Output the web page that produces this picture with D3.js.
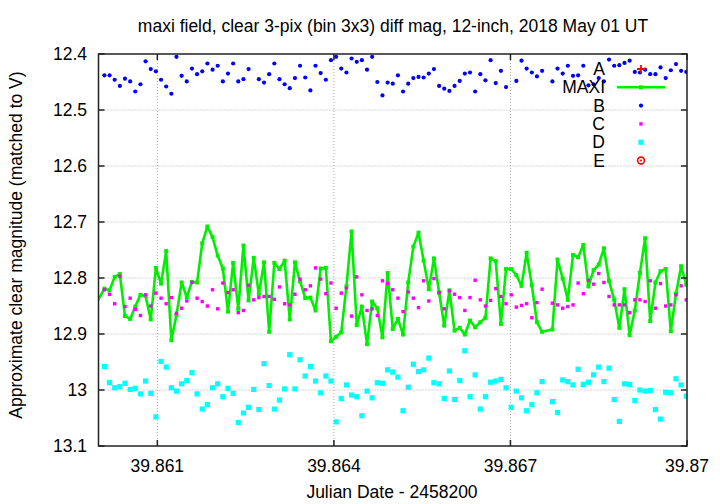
<!DOCTYPE html>
<html><head><meta charset="utf-8">
<script src="https://cdn.jsdelivr.net/npm/d3@7/dist/d3.min.js"></script>
<style>
body{margin:0;background:#fff}
text{font-family:"Liberation Sans",Arial,Helvetica,sans-serif;font-size:17.5px;fill:#000}
</style>
</head><body>
<svg id="chart" width="720" height="504"></svg>
<script>
const titleText = "maxi field, clear 3-pix (bin 3x3) diff mag, 12-inch, 2018 May 01 UT";
const xLabel = "Julian Date - 2458200";
const yLabel = "Approximate clear magnitude (matched to V)";
const xTicks = [39.861, 39.864, 39.867, 39.870];
const xTickLabels = ["39.861", "39.864", "39.867", "39.87"];
const yTicks = [12.4, 12.5, 12.6, 12.7, 12.8, 12.9, 13.0, 13.1];
const yTickLabels = ["12.4", "12.5", "12.6", "12.7", "12.8", "12.9", "13", "13.1"];
const legendNames = ["A", "MAXI", "B", "C", "D", "E"];

const jd = [39.85996,
39.860100,39.860188,39.860275,39.860363,39.860450,39.860538,39.860625,39.860713,39.860800,39.860888,
39.860975,39.861063,39.861150,39.861238,39.861325,39.861413,39.861500,39.861588,39.861675,39.861763,
39.861850,39.861938,39.862025,39.862113,39.862200,39.862288,39.862375,39.862463,39.862550,39.862638,
39.862725,39.862813,39.862900,39.862988,39.863075,39.863163,39.863250,39.863338,39.863425,39.863513,
39.863600,39.863688,39.863775,39.863863,39.863950,39.864038,39.864125,39.864213,39.864300,39.864388,
39.864475,39.864563,39.864650,39.864738,39.864825,39.864913,39.865000,39.865088,39.865175,39.865263,
39.865350,39.865438,39.865525,39.865613,39.865700,39.865788,39.865875,39.865963,39.866050,39.866138,
39.866225,39.866313,39.866400,39.866488,39.866575,39.866663,39.866750,39.866838,39.866925,39.867013,
39.867100,39.867188,39.867275,39.867363,39.867450,39.867538,
39.867713,39.867800,39.867888,39.867975,39.868063,39.868150,39.868238,39.868325,39.868413,39.868500,
39.868588,39.868675,39.868763,39.868850,39.868938,39.869025,39.869113,39.869200,39.869288,39.869375,
39.869463,39.869550,39.869638,39.869725,39.869813,39.869900,39.869988];

const magA = [];
const magE = [];

const magMAXI = [12.846,
12.819,12.822,12.798,12.793,12.868,12.873,12.851,12.830,12.832,12.874,
12.782,12.810,12.752,12.911,12.866,12.808,12.834,12.807,12.808,12.738,
12.708,12.727,12.760,12.783,12.860,12.773,12.855,12.742,12.840,12.764,
12.829,12.772,12.896,12.773,12.784,12.769,12.874,12.772,12.806,12.836,
12.835,12.858,12.783,12.782,12.913,12.905,12.897,12.815,12.717,12.884,
12.851,12.918,12.842,12.854,12.906,12.791,12.891,12.873,12.901,12.808,
12.744,12.719,12.769,12.820,12.765,12.826,12.885,12.822,12.894,12.889,
12.901,12.876,12.888,12.879,12.871,12.765,12.770,12.882,12.784,12.784,
12.795,12.814,12.755,12.813,12.879,12.896,
12.892,12.767,12.801,12.839,12.759,12.763,12.741,12.815,12.786,12.776,
12.747,12.805,12.839,12.889,12.820,12.902,12.858,12.791,12.729,12.877,
12.808,12.788,12.784,12.895,12.828,12.779,12.812];

const magB = [null,
12.438,12.438,12.446,12.457,12.444,12.449,12.467,12.454,12.413,12.427,
12.431,12.446,12.458,12.471,12.405,12.439,12.449,12.426,12.436,12.431,
12.417,12.428,12.421,12.449,12.435,12.417,12.449,12.445,12.427,null,
12.445,12.451,12.436,12.417,12.445,12.454,12.461,12.443,12.421,12.442,
12.465,12.421,12.434,12.446,12.411,12.405,12.426,12.433,12.408,12.414,
12.411,12.428,12.405,12.450,12.474,12.451,12.453,12.438,12.467,12.453,
12.443,12.441,12.442,12.435,12.427,12.457,12.462,12.466,12.457,12.448,
12.435,12.433,12.467,12.436,12.447,12.411,12.452,12.430,12.459,null,
12.448,12.412,12.426,12.433,12.440,12.430,
12.449,12.426,12.435,12.421,12.439,12.438,12.421,12.456,12.454,12.443,
12.449,12.410,12.421,12.420,12.416,12.412,12.432,12.433,12.428,12.436,
12.436,12.424,12.443,12.429,12.418,12.430,12.432];

const magC = [null,
12.821,12.829,12.846,12.797,12.851,12.836,12.856,12.867,12.830,12.850,
12.827,12.836,12.846,12.835,12.863,12.854,12.841,12.808,12.836,12.842,
12.850,12.821,12.855,12.809,12.826,12.821,12.862,12.858,12.813,12.839,
12.835,12.833,12.833,12.838,12.816,12.846,12.848,12.829,12.802,12.821,
12.814,12.782,12.802,12.828,12.809,12.854,12.827,12.818,12.868,12.798,
12.830,12.858,12.855,12.867,12.805,12.810,12.821,12.836,12.860,12.825,
12.836,12.853,12.805,12.841,12.801,12.826,12.855,12.823,12.829,12.835,
12.858,12.835,12.804,12.839,12.850,12.840,12.819,12.833,12.846,12.830,
12.852,12.849,12.846,12.871,12.844,12.820,
12.845,12.848,12.854,12.851,12.848,12.809,12.828,12.804,12.811,12.792,
12.808,12.833,12.848,12.848,12.848,12.862,12.839,12.839,12.842,12.805,
12.854,12.810,12.850,12.848,12.830,12.814,12.839];

const magD = [null,
12.958,12.987,12.996,12.994,12.988,12.999,12.997,13.007,12.984,13.006,
13.048,12.949,12.959,12.996,13.002,12.989,12.983,12.969,13.007,13.034,
13.026,12.996,12.989,13.012,12.997,13.006,13.058,13.041,13.031,12.999,
13.035,12.953,12.992,13.034,13.018,12.998,12.937,12.998,12.946,12.975,
12.958,12.984,13.005,12.975,12.984,13.057,13.015,12.991,13.009,13.012,
13.046,13.002,13.014,12.987,12.988,12.964,12.968,12.977,13.037,12.995,
12.954,12.967,12.964,12.943,12.987,12.989,13.015,12.966,13.017,12.983,
12.930,13.012,12.973,13.034,13.012,12.986,12.984,12.981,12.996,13.031,
13.002,13.014,13.037,13.026,13.005,12.985,
13.021,13.040,12.982,12.985,12.991,12.963,12.990,12.986,12.973,12.959,
12.985,12.961,13.017,13.056,12.989,12.990,13.019,13.000,13.002,13.001,
13.035,13.052,13.004,13.005,12.980,12.991,13.011];

const W = 720, H = 504;
const L = 98.5, R = 687, T = 54, B = 446;
const svg = d3.select("#chart");
const x = d3.scaleLinear().domain([39.860, 39.870]).range([L, R]);
const y = d3.scaleLinear().domain([12.4, 13.1]).range([T, B]);

svg.append("rect").attr("width", W).attr("height", H).attr("fill", "#fff");

// grid
const grid = svg.append("g").attr("stroke", "#aaaaaa").attr("stroke-width", 1).attr("stroke-dasharray", "1,2");
grid.selectAll("line.gy").data(yTicks.slice(1, -1)).join("line")
  .attr("x1", L).attr("x2", R).attr("y1", d => y(d)).attr("y2", d => y(d));
grid.selectAll("line.gx").data(xTicks.filter(d => x(d) < R - 2)).join("line")
  .attr("y1", T).attr("y2", B).attr("x1", d => x(d)).attr("x2", d => x(d));

// clip
svg.append("clipPath").attr("id", "clip").append("rect")
  .attr("x", L).attr("y", T).attr("width", R - L).attr("height", B - T);
const plot = svg.append("g").attr("clip-path", "url(#clip)");

const pts = arr => jd.map((t, i) => ({t, v: arr[i]})).filter(d => d.v != null);

// MAXI line
const green = "#00ee00";
plot.append("path").datum(pts(magMAXI))
  .attr("fill", "none").attr("stroke", green).attr("stroke-width", 2.6).attr("stroke-linejoin", "round")
  .attr("d", d3.line().x(d => x(d.t)).y(d => y(d.v)));
plot.selectAll("rect.mx").data(pts(magMAXI)).join("rect")
  .attr("x", d => x(d.t) - 2).attr("y", d => y(d.v) - 2).attr("width", 4).attr("height", 4).attr("fill", green);

// B
plot.selectAll("circle.b").data(pts(magB)).join("circle")
  .attr("cx", d => x(d.t)).attr("cy", d => y(d.v)).attr("r", 2.1).attr("fill", "#0000ff");
// C
plot.selectAll("rect.c").data(pts(magC)).join("rect")
  .attr("x", d => x(d.t) - 1.7).attr("y", d => y(d.v) - 1.7).attr("width", 3.4).attr("height", 3.4).attr("fill", "#ff00ff");
// D
plot.selectAll("rect.d").data(pts(magD)).join("rect")
  .attr("x", d => x(d.t) - 2.6).attr("y", d => y(d.v) - 2.6).attr("width", 5.2).attr("height", 5.2).attr("fill", "#00ffff");

// border & ticks
const ax = svg.append("g").attr("stroke", "#222").attr("stroke-width", 1.5);
ax.append("rect").attr("x", L).attr("y", T).attr("width", R - L).attr("height", B - T).attr("fill", "none");
const tl = 6;
yTicks.forEach(v => {
  ax.append("line").attr("x1", L).attr("x2", L + tl).attr("y1", y(v)).attr("y2", y(v));
  ax.append("line").attr("x1", R).attr("x2", R - tl).attr("y1", y(v)).attr("y2", y(v));
});
xTicks.forEach(v => {
  ax.append("line").attr("x1", x(v)).attr("x2", x(v)).attr("y1", B).attr("y2", B - tl);
  ax.append("line").attr("x1", x(v)).attr("x2", x(v)).attr("y1", T).attr("y2", T + tl);
});

// tick labels
svg.selectAll("text.yt").data(yTicks).join("text")
  .attr("x", 87).attr("y", d => y(d)).attr("dy", "0.35em").attr("text-anchor", "end")
  .text((d, i) => yTickLabels[i]);
svg.selectAll("text.xt").data(xTicks).join("text")
  .attr("x", d => x(d)).attr("y", 472).attr("text-anchor", "middle")
  .text((d, i) => xTickLabels[i]);

// titles
svg.append("text").attr("x", 393).attr("y", 32).attr("text-anchor", "middle").text(titleText);
svg.append("text").attr("x", 392).attr("y", 498).attr("text-anchor", "middle").text(xLabel);
svg.append("text").attr("transform", "translate(22,245) rotate(-90)").attr("text-anchor", "middle").text(yLabel);

// legend
const ly0 = 69, lstep = 18.3, ltx = 605, lsx = 641;
const lg = svg.append("g");
legendNames.forEach((n, i) => {
  lg.append("text").attr("x", ltx).attr("y", ly0 + i * lstep).attr("dy", "0.35em").attr("text-anchor", "end").text(n);
});
// A sample: red plus
let yy = ly0;
lg.append("path").attr("d", `M${lsx-4},${yy}H${lsx+4}M${lsx},${yy-4}V${yy+4}`).attr("stroke", "#ff0000").attr("stroke-width", 1.8);
// MAXI sample
yy = ly0 + lstep;
lg.append("line").attr("x1", 617).attr("x2", 665).attr("y1", yy).attr("y2", yy).attr("stroke", green).attr("stroke-width", 2.6);
lg.append("rect").attr("x", lsx - 2).attr("y", yy - 2).attr("width", 4).attr("height", 4).attr("fill", green);
// B sample
yy = ly0 + 2 * lstep;
lg.append("circle").attr("cx", lsx).attr("cy", yy).attr("r", 2.1).attr("fill", "#0000ff");
// C sample
yy = ly0 + 3 * lstep;
lg.append("rect").attr("x", lsx - 1.7).attr("y", yy - 1.7).attr("width", 3.4).attr("height", 3.4).attr("fill", "#ff00ff");
// D sample
yy = ly0 + 4 * lstep;
lg.append("rect").attr("x", lsx - 2.6).attr("y", yy - 2.6).attr("width", 5.2).attr("height", 5.2).attr("fill", "#00ffff");
// E sample
yy = ly0 + 5 * lstep;
lg.append("circle").attr("cx", lsx).attr("cy", yy).attr("r", 3.4).attr("fill", "none").attr("stroke", "#ff0000").attr("stroke-width", 1.6);
lg.append("circle").attr("cx", lsx).attr("cy", yy).attr("r", 1).attr("fill", "#ff0000");
</script>
</body></html>
